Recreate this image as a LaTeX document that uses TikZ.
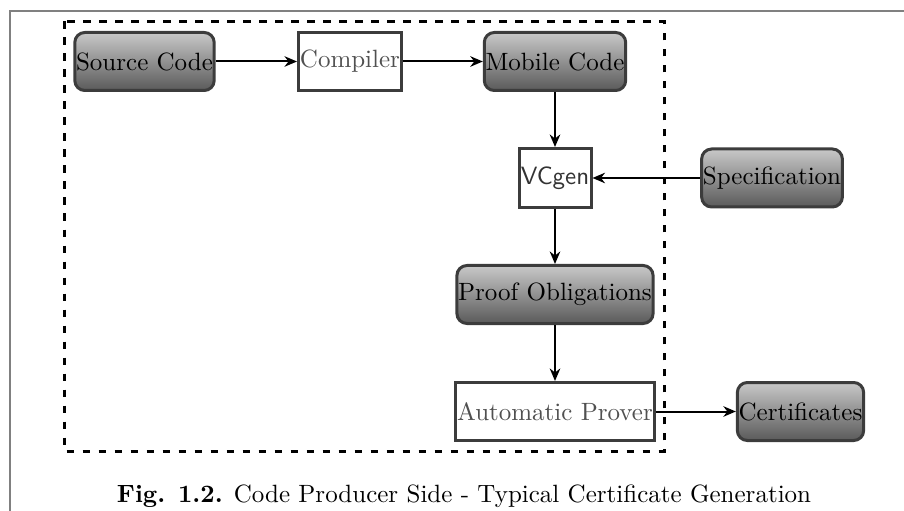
\documentclass[tikz,border=0pt]{standalone}
\usetikzlibrary{arrows.meta,shadings}
\definecolor{boxline}{HTML}{3C3C3C}
\definecolor{shadetop}{HTML}{C8C8C8}
\definecolor{shadebot}{HTML}{5A5A5A}
\definecolor{tooltext}{HTML}{505050}
\begin{document}
\begin{tikzpicture}[x=0.4pt,y=-0.4pt,
  data/.style={draw=boxline, line width=1.2pt, rounded corners=4pt,
    top color=shadetop, bottom color=shadebot, inner sep=0.5pt,
    minimum height=23.2pt, font=\fontsize{10}{12}\selectfont, text=black},
  tool/.style={draw=boxline, line width=1.2pt, fill=white, inner sep=0.5pt,
    minimum height=23.2pt, font=\fontsize{10}{12}\selectfont, text=tooltext},
  flow/.style={line width=0.8pt, -{Stealth[length=5pt,width=4.2pt,inset=1.6pt]}}]
  \useasboundingbox (0,0) rectangle (904,511);
  % outer figure frame (only top and left edges lie within the page)
  \draw[gray, line width=0.8pt] (904,11) -- (10,11) -- (10,511);
  % producer-side boundary
  \draw[line width=1.2pt, dash pattern=on 3pt off 3.4pt] (64,21.5) rectangle (664,451);
  % components
  \node[data, minimum width=55.2pt] (src) at (144.5,61.5) {Source Code};
  \node[tool, minimum width=41.2pt] (comp) at (350,61.5) {Compiler};
  \node[data, minimum width=56.4pt] (mob) at (555,61.5) {Mobile Code};
  \node[tool, minimum width=28.8pt, minimum height=23.6pt, text=black!80,
        font=\sffamily\fontsize{10}{12}\selectfont] (vc) at (555,178) {VCgen};
  \node[data, minimum width=55.6pt] (spec) at (772,178) {Specification};
  \node[data, minimum width=77.2pt] (po) at (555,294.5) {Proof Obligations};
  \node[tool, minimum width=78.8pt] (prov) at (555,411.5) {Automatic Prover};
  \node[data, minimum width=50.4pt] (cert) at (800.5,411.5) {Certificates};
  % connectors
  \draw[flow] (src) -- (comp);
  \draw[flow] (comp) -- (mob);
  \draw[flow] (mob) -- (vc);
  \draw[flow] (spec) -- (vc);
  \draw[flow] (vc) -- (po);
  \draw[flow] (po) -- (prov);
  \draw[flow] (prov) -- (cert);
  % caption
  \node[anchor=base, font=\fontsize{10}{12}\selectfont] (cap) at (464,502)
    {\textbf{Fig. 1.2.} Code Producer Side - Typical Certificate Generation};
\end{tikzpicture}
\end{document}
